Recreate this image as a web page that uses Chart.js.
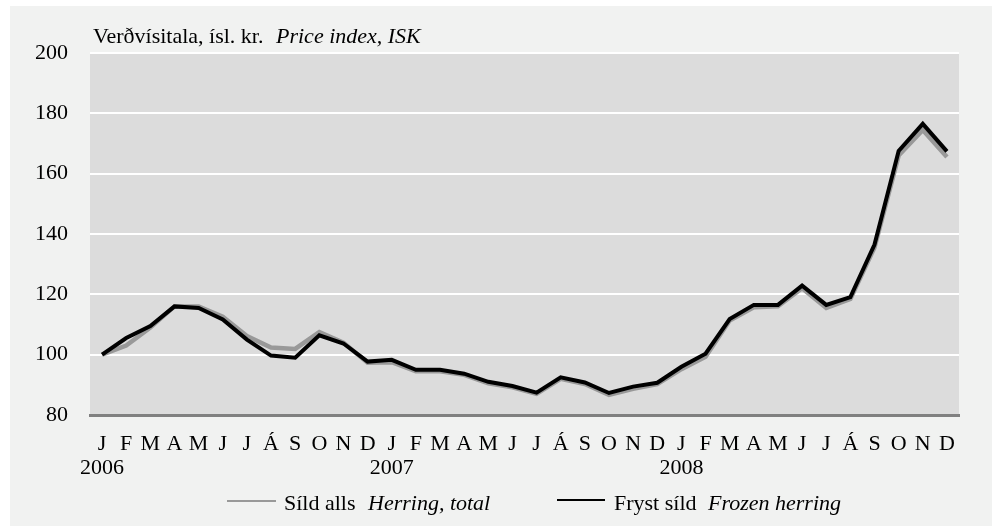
<!DOCTYPE html>
<html>
<head>
<meta charset="utf-8">
<script src="https://cdn.jsdelivr.net/npm/chart.js@4"></script>
<style>
  html, body { margin: 0; padding: 0; background: #ffffff; }
  #wrap { width: 996px; height: 526px; }
</style>
</head>
<body>
<div id="wrap"><canvas id="lineChart" width="996" height="526"></canvas></div>
<script>
// months, three years
var months = ['J', 'F', 'M', 'A', 'M', 'J', 'J', 'Á', 'S', 'O', 'N', 'D'];
var years = ['2006', '2007', '2008'];

// price index values
var herringTotal = [
  100, 103, 109, 116, 116, 112.6, 106.2, 102.4, 101.9, 107.5, 104, 97.3,
  97.5, 94.5, 94.5, 93.3, 90.5, 89.2, 87, 92, 90.3, 86.7, 88.7, 90.2,
  95.2, 99.3, 111.3, 115.7, 116, 122, 115.5, 118.5, 135.5, 166, 174.5, 165.5
];
var frozenHerring = [
  100, 105.5, 109.5, 116, 115.5, 111.7, 105, 99.7, 99, 106.4, 103.7, 97.7,
  98.3, 95, 95, 93.7, 91, 89.6, 87.4, 92.5, 90.8, 87.3, 89.4, 90.7,
  96, 100.3, 111.8, 116.5, 116.5, 122.9, 116.5, 119.1, 136.5, 167.5, 176.5, 167.4
];

var yTicks = [80, 100, 120, 140, 160, 180, 200];
var titleText = ['Verðvísitala, ísl. kr.', 'Price index, ISK'];
var legendNames = [['Síld alls', 'Herring, total'], ['Fryst síld', 'Frozen herring']];

var labels = [];
years.forEach(function (yr) {
  months.forEach(function (m, i) {
    labels.push(i === 0 ? [m, yr] : m);
  });
});

var serif = "'Liberation Serif', 'Times New Roman', serif";

// panel, plot background, title and legend
var decor = {
  id: 'decor',
  beforeDraw: function (chart) {
    var c = chart.ctx, a = chart.chartArea;
    c.save();
    c.fillStyle = '#f1f2f1';
    c.fillRect(10, 6, 982, 520);
    c.fillStyle = '#dcdcdc';
    c.fillRect(a.left, a.top, a.right - a.left, a.bottom - a.top);
    c.restore();
  },
  afterDraw: function (chart) {
    var c = chart.ctx;
    c.save();
    c.fillStyle = '#000';
    c.textBaseline = 'alphabetic';
    c.font = '22px ' + serif;
    c.fillText(titleText[0], 93, 43);
    c.font = 'italic 22px ' + serif;
    c.fillText(titleText[1], 276, 43);

    // legend
    c.lineWidth = 2;
    c.strokeStyle = '#999999';
    c.beginPath(); c.moveTo(227, 501); c.lineTo(276, 501); c.stroke();
    c.strokeStyle = '#000000';
    c.beginPath(); c.moveTo(557, 500); c.lineTo(605, 500); c.stroke();

    c.font = '22px ' + serif;
    c.fillText(legendNames[0][0], 284, 510);
    c.fillText(legendNames[1][0], 614, 510);
    c.font = 'italic 22px ' + serif;
    c.fillText(legendNames[0][1], 368, 510);
    c.fillText(legendNames[1][1], 708, 510);
    c.restore();
  }
};

var ctx = document.getElementById('lineChart').getContext('2d');
new Chart(ctx, {
  type: 'line',
  data: {
    labels: labels,
    datasets: [{
      label: 'Síld alls',
      data: herringTotal,
      borderColor: '#999999',
      borderWidth: 4.5,
      pointRadius: 0,
      tension: 0,
      order: 2
    }, {
      label: 'Fryst síld',
      data: frozenHerring,
      borderColor: '#000000',
      borderWidth: 4,
      pointRadius: 0,
      tension: 0,
      order: 1
    }]
  },
  options: {
    responsive: false,
    animation: false,
    layout: { padding: { left: 0, right: 37, top: 53, bottom: 0 } },
    plugins: {
      legend: { display: false },
      tooltip: { enabled: false }
    },
    scales: {
      x: {
        offset: true,
        grid: { display: false, drawTicks: false },
        border: { display: true, color: '#808080', width: 3 },
        ticks: {
          autoSkip: false,
          maxRotation: 0,
          padding: 17,
          color: '#000',
          font: { family: serif, size: 22, lineHeight: 1.1 }
        },
        afterFit: function (s) { s.height = 111; }
      },
      y: {
        min: 80,
        max: 200,
        afterBuildTicks: function (s) { s.ticks = yTicks.map(function (v) { return { value: v }; }); },
        grid: { color: '#ffffff', lineWidth: 2, drawTicks: false },
        border: { display: false },
        ticks: {
          padding: 22,
          color: '#000',
          font: { family: serif, size: 22 }
        },
        afterFit: function (s) { s.width = 90; }
      }
    }
  },
  plugins: [decor]
});
</script>
</body>
</html>
